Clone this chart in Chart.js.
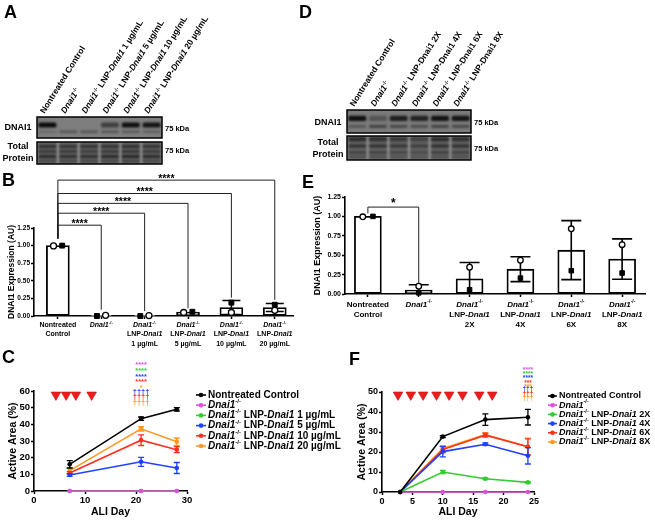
<!DOCTYPE html>
<html lang="en">
<head>
<meta charset="utf-8">
<title>DNAI1 rescue by LNP-Dnai1</title>
<script src="https://cdn.jsdelivr.net/npm/chart.js@4.4.1/dist/chart.umd.min.js"></script>
<style>
  html, body { margin: 0; padding: 0; background: #fff; }
  #figure { position: relative; width: 655px; height: 521px; overflow: hidden; }
  #figure canvas { position: absolute; }
  .panel { position: absolute; font: bold 18px "Liberation Sans", Arial, sans-serif; line-height: 18px; color: #000; }
</style>
</head>
<body>
<div id="figure">
  <canvas id="blotA1" width="300" height="140" style="left:0px;top:0px"></canvas>
  <canvas id="blotA2" width="300" height="28" style="left:0px;top:140px"></canvas>
  <canvas id="blotD1" width="355" height="134" style="left:300px;top:0px"></canvas>
  <canvas id="blotD2" width="355" height="30" style="left:300px;top:134px"></canvas>
  <canvas id="chartB" width="310" height="186" style="left:0px;top:170px"></canvas>
  <canvas id="chartE" width="343" height="165" style="left:312px;top:170px"></canvas>
  <canvas id="chartC" width="345" height="166" style="left:0px;top:355px"></canvas>
  <canvas id="chartF" width="310" height="166" style="left:345px;top:355px"></canvas>
  <div class="panel" style="left:4px;top:3px">A</div>
  <div class="panel" style="left:2px;top:171px">B</div>
  <div class="panel" style="left:2px;top:348px">C</div>
  <div class="panel" style="left:299px;top:3px">D</div>
  <div class="panel" style="left:302px;top:173px">E</div>
  <div class="panel" style="left:349px;top:350px">F</div>
</div>
<script>
const FONT = '"Liberation Sans", Arial, Helvetica, sans-serif';

// ---------- Panel A: western blot, LNP dose series ----------
// text markup: _italic_ and ^superscript^
const lanesA = ['Nontreated Control', '_Dnai1_^-/-^', '_Dnai1_^-/-^ LNP-_Dnai1_ 1 µg/mL', '_Dnai1_^-/-^ LNP-_Dnai1_ 5 µg/mL',
  '_Dnai1_^-/-^ LNP-_Dnai1_ 10 µg/mL', '_Dnai1_^-/-^ LNP-_Dnai1_ 20 µg/mL'];
const dnai1TopA = [1.0, 0.0, 0.0, 0.55, 0.97, 0.93];    // band intensity 0..1
const dnai1LowA = [0.2, 0.45, 0.45, 0.45, 0.4, 0.35];
const totalA = [
  [0.6, 0.55, 0.55, 0.55, 0.6, 0.55],
  [0.45, 0.45, 0.4, 0.45, 0.5, 0.45],
  [0.65, 0.6, 0.6, 0.65, 0.7, 0.65],
  [0.35, 0.35, 0.35, 0.35, 0.4, 0.35]
];

// ---------- Panel D: western blot, repeat dosing ----------
const lanesD = ['Nontreated Control', '_Dnai1_^-/-^', '_Dnai1_^-/-^ LNP-Dnai1 2X', '_Dnai1_^-/-^ LNP-Dnai1 4X',
  '_Dnai1_^-/-^ LNP-Dnai1 6X', '_Dnai1_^-/-^ LNP-Dnai1 8X'];
const dnai1TopD = [0.97, 0.35, 0.85, 0.8, 0.95, 0.93];
const dnai1LowD = [0.35, 0.55, 0.5, 0.45, 0.55, 0.5];
const totalD = [
  [0.65, 0.6, 0.5, 0.4, 0.65, 0.6],
  [0.6, 0.6, 0.55, 0.45, 0.65, 0.6],
  [0.45, 0.45, 0.4, 0.35, 0.5, 0.45],
  [0.3, 0.3, 0.25, 0.2, 0.3, 0.3]
];

// ---------- Panel B: DNAI1 quantification, dose series ----------
const groupsB = ['Nontreated\nControl', '_Dnai1_^-/-^', '_Dnai1_^-/-^\nLNP-_Dnai1_\n1 µg/mL', '_Dnai1_^-/-^\nLNP-_Dnai1_\n5 µg/mL',
  '_Dnai1_^-/-^\nLNP-_Dnai1_\n10 µg/mL', '_Dnai1_^-/-^\nLNP-_Dnai1_\n20 µg/mL'];
const meanB = [1.00, 0.005, 0.003, 0.055, 0.12, 0.12];
const sdB = [0, 0, 0, 0, 0.10, 0.057];
const circleB = [0.995, 0.01, 0.006, 0.05, 0.05, 0.08];
const squareB = [1.00, 0.0, 0.0, 0.06, 0.19, 0.16];

// ---------- Panel E: DNAI1 quantification, repeat dosing ----------
const groupsE = ['Nontreated\nControl', '_Dnai1_^-/-^', '_Dnai1_^-/-^\nLNP-_Dnai1_\n2X', '_Dnai1_^-/-^\nLNP-_Dnai1_\n4X',
  '_Dnai1_^-/-^\nLNP-_Dnai1_\n6X', '_Dnai1_^-/-^\nLNP-_Dnai1_\n8X'];
const meanE = [1.00, 0.05, 0.195, 0.32, 0.565, 0.45];
const sdE = [0, 0.07, 0.21, 0.16, 0.38, 0.26];
const circleE = [0.995, 0.10, 0.345, 0.435, 0.84, 0.635];
const squareE = [1.00, 0.015, 0.055, 0.205, 0.30, 0.27];

// ---------- Panel C: active area over time, dose series ----------
const daysC = [7, 21, 28];
const doseDaysC = [4.3, 6.3, 8.2, 11.3];
const seriesC = ['Nontreated Control', '_Dnai1_^-/-^', '_Dnai1_^-/-^ LNP-_Dnai1_ 1 µg/mL', '_Dnai1_^-/-^ LNP-_Dnai1_ 5 µg/mL',
  '_Dnai1_^-/-^ LNP-_Dnai1_ 10 µg/mL', '_Dnai1_^-/-^ LNP-_Dnai1_ 20 µg/mL'];
const controlC = [16, 43.4, 49];
const knockoutC = [0, 0, 0];
const lnp1C = [0, 0, 0];
const lnp5C = [9.6, 17.5, 13.8];
const lnp10C = [10.8, 30.5, 24.8];
const lnp20C = [12.2, 37.3, 29.6];
const sdC = [[2.2, 1, 1], [0, 0, 0], [0, 0, 0], [0.8, 2.7, 3.3], [0.8, 3.2, 1.8], [1.6, 1.3, 2.2]];
const sigC = [['****', '#dd4fdd'], ['****', '#33cc33'], ['****', '#2040ff'], ['****', '#ff3020'], ['*', '#ff9922'],
  ['††††', '#2040ff'], ['††††', '#ff3020'], ['††††', '#ff9922']];

// ---------- Panel F: active area over time, repeat dosing ----------
const daysF = [3, 10, 17, 24];
const doseDaysF = [2.64, 4.73, 6.76, 8.96, 11.04, 13.24, 15.99, 18.13];
const seriesF = ['Nontreated Control', '_Dnai1_^-/-^', '_Dnai1_^-/-^ LNP-_Dnai1_ 2X', '_Dnai1_^-/-^ LNP-_Dnai1_ 4X',
  '_Dnai1_^-/-^ LNP-_Dnai1_ 6X', '_Dnai1_^-/-^ LNP-_Dnai1_ 8X'];
const controlF = [0, 27.7, 36.2, 37.4];
const knockoutF = [0, 0, 0, 0];
const dose2F = [0, 10, 6.6, 4.8];
const dose4F = [0, 20.2, 23.9, 18.1];
const dose6F = [0, 21.2, 28.4, 22.6];
const dose8F = [0, 21.8, 28.7, 22.6];
const sdF = [[0, 0.5, 2.9, 3.9], [0, 0, 0, 0], [0, 0.8, 0.4, 0.4], [0, 2.6, 0.6, 4.1], [0, 1.5, 1.0, 4.0], [0, 1.2, 0.8, 4.3]];
const sigF = [['****', '#dd4fdd'], ['****', '#33cc33'], ['****', '#2040ff'], ['***', '#ff3020'], ['***', '#ff9922'],
  ['†††', '#2040ff'], ['†††', '#ff3020'], ['†††', '#ff9922']];

const seriesColors = ['#000000', '#dd4fdd', '#33cc33', '#2040ff', '#ff3020', '#ff9922'];

Chart.defaults.font.family = FONT;
Chart.defaults.font.weight = 'bold';
Chart.defaults.color = '#000';
Chart.defaults.animation = false;
Chart.defaults.responsive = false;
Chart.defaults.plugins.legend.display = false;
Chart.defaults.plugins.tooltip.enabled = false;

// Texto con cursiva y superíndice dentro del canvas
function parseRich(str) {
  return str.split(/(_[^_]+_|\^[^\^]+\^)/).filter(s => s.length).map(s => {
    if (s[0] === '_' && s.length > 2) return { t: s.slice(1, -1), it: true };
    if (s[0] === '^' && s.length > 2) return { t: s.slice(1, -1), sup: true };
    return { t: s };
  });
}

function drawRich(ctx, str, x, y, size, align) {
  const parts = parseRich(str);
  let total = 0;
  parts.forEach(p => {
    p.font = (p.it ? 'italic ' : '') + 'bold ' + (p.sup ? size * 0.62 : size) + 'px ' + FONT;
    ctx.font = p.font;
    p.w = ctx.measureText(p.t).width;
    total += p.w;
  });
  let cx = align === 'center' ? x - total / 2 : (align === 'right' ? x - total : x);
  ctx.textAlign = 'left';
  parts.forEach(p => {
    ctx.font = p.font;
    ctx.fillText(p.t, cx, p.sup ? y - size * 0.38 : y);
    cx += p.w;
  });
  return total;
}

function shade(base, v) {
  const g = Math.round(base - (base - 12) * v);
  return 'rgb(' + g + ',' + g + ',' + g + ')';
}

function axisStyle(extra) {
  return Object.assign({
    grid: { drawOnChartArea: false, drawTicks: true, tickLength: 3, tickWidth: 1.5, tickColor: '#000', offset: false },
    border: { display: true, color: '#000', width: 1.6 }
  }, extra);
}

// ---------- Western blot strip ----------
function blotPlugin(o) {
  return {
    id: 'blot',
    beforeDraw(chart) {
      const { ctx, chartArea: a } = chart;
      ctx.save();
      ctx.fillStyle = o.bg;
      ctx.fillRect(a.left, a.top, a.right - a.left, a.bottom - a.top);
      ctx.restore();
    },
    beforeDatasetsDraw(chart) {
      chart.ctx.save();
      chart.ctx.filter = 'blur(0.9px)';
    },
    afterDatasetsDraw(chart) {
      chart.ctx.restore();
    },
    afterDraw(chart) {
      const { ctx, chartArea: a, scales: { x } } = chart;
      const mid = (a.top + a.bottom) / 2;
      ctx.save();
      ctx.strokeStyle = '#000';
      ctx.lineWidth = 1.5;
      ctx.strokeRect(a.left, a.top, a.right - a.left, a.bottom - a.top);
      ctx.fillStyle = '#000';
      ctx.textBaseline = 'middle';
      ctx.textAlign = 'center';
      ctx.font = 'bold 9px ' + FONT;
      o.side.forEach((s, k) => ctx.fillText(s, a.left - 19, mid + o.sideDy[k]));
      ctx.textAlign = 'left';
      ctx.font = 'bold 7.5px ' + FONT;
      ctx.fillText('75 kDa', a.right + 3, mid + o.kdaDy);
      if (o.showLanes) {
        ctx.textBaseline = 'alphabetic';
        o.lanes.forEach((lane, i) => {
          ctx.save();
          ctx.translate(x.getPixelForValue(i) - 3, a.top - 3);
          ctx.rotate(-58 * Math.PI / 180);
          drawRich(ctx, lane, 0, 0, 8.5, 'left');
          ctx.restore();
        });
      }
      ctx.restore();
    }
  };
}

function createBlot(canvasId, o) {
  const datasets = [{
    data: o.lanes.map(() => [0, 1]),
    backgroundColor: o.laneColor,
    barPercentage: 0.9, categoryPercentage: 1, grouped: false, order: 9
  }];
  o.bands.forEach((vals, k) => datasets.push({
    data: vals.map(() => o.bandPos[k].slice()),
    backgroundColor: vals.map(v => shade(o.base, v)),
    barPercentage: 0.86, categoryPercentage: 1, grouped: false,
    borderRadius: 1.5, borderSkipped: false, order: 5 - k
  }));
  return new Chart(document.getElementById(canvasId).getContext('2d'), {
    type: 'bar',
    data: { labels: o.lanes, datasets: datasets },
    options: {
      layout: { padding: o.padding },
      scales: {
        x: { display: false, offset: true },
        y: { display: false, min: 0, max: 1 }
      }
    },
    plugins: [blotPlugin(o)]
  });
}

// ---------- Bar + individual points chart ----------
function dotBarPlugin(o) {
  return {
    id: 'dotBar',
    afterDatasetDraw(chart, args) {
      if (args.index !== 0) return;
      const { ctx, scales: { x, y } } = chart;
      ctx.save();
      ctx.strokeStyle = '#000';
      ctx.lineWidth = 1.6;
      o.means.forEach((m, i) => {
        const sd = o.sds[i];
        if (!sd) return;
        const px = x.getPixelForValue(i);
        const top = y.getPixelForValue(m + sd);
        const bot = y.getPixelForValue(Math.max(0, m - sd));
        ctx.beginPath();
        ctx.moveTo(px, top); ctx.lineTo(px, bot);
        ctx.moveTo(px - o.cap, top); ctx.lineTo(px + o.cap, top);
        if (m - sd > 0) { ctx.moveTo(px - o.cap, bot); ctx.lineTo(px + o.cap, bot); }
        ctx.stroke();
      });
      ctx.restore();
    },
    afterDraw(chart) {
      const { ctx, chartArea, scales: { x, y } } = chart;
      ctx.save();
      // corchetes de significancia
      ctx.strokeStyle = '#222';
      ctx.fillStyle = '#000';
      ctx.lineWidth = 1;
      o.brackets.forEach(b => {
        const x1 = x.getPixelForValue(b.from), x2 = x.getPixelForValue(b.to);
        const yl = y.getPixelForValue(b.at);
        ctx.beginPath();
        ctx.moveTo(x1, y.getPixelForValue(b.base));
        ctx.lineTo(x1, yl);
        ctx.lineTo(x2, yl);
        ctx.lineTo(x2, y.getPixelForValue(b.end));
        ctx.stroke();
        ctx.font = 'bold ' + o.starSize + 'px ' + FONT;
        ctx.textAlign = 'center';
        ctx.textBaseline = 'alphabetic';
        ctx.fillText(b.text, (x1 + x2) / 2, yl + o.starDy);
      });
      // etiquetas de categoría
      ctx.textBaseline = 'middle';
      o.groups.forEach((g, i) => {
        g.split('\n').forEach((line, k) => {
          drawRich(ctx, line, x.getPixelForValue(i), chartArea.bottom + o.labelTop + k * o.labelStep, o.labelSize, 'center');
        });
      });
      ctx.restore();
    }
  };
}

function createDotBarChart(canvasId, o) {
  // separar puntos que se solapan: el menor a la izquierda
  const jit = o.circles.map((c, i) => {
    const s = o.squares[i];
    if (Math.abs(c - s) >= 0.06) return [0, 0];
    return c <= s ? [-0.1, 0.1] : [0.1, -0.1];
  });
  return new Chart(document.getElementById(canvasId).getContext('2d'), {
    type: 'bar',
    data: {
      datasets: [
        {
          data: o.means.map((m, i) => ({ x: i, y: m })),
          backgroundColor: '#fff', borderColor: '#000', borderWidth: 1.8, borderSkipped: false,
          barThickness: o.barWidth, order: 3
        },
        {
          type: 'scatter',
          data: o.circles.map((v, i) => ({ x: i + jit[i][0], y: v })),
          pointStyle: 'circle', pointRadius: o.dot, pointBackgroundColor: '#fff',
          pointBorderColor: '#000', pointBorderWidth: 1.3, order: 1, clip: false
        },
        {
          type: 'scatter',
          data: o.squares.map((v, i) => ({ x: i + jit[i][1], y: v })),
          pointStyle: 'rect', pointRadius: o.dot * 1.15, pointBackgroundColor: '#000',
          pointBorderColor: '#000', pointBorderWidth: 1, order: 2, clip: false
        }
      ]
    },
    options: {
      layout: { padding: o.padding },
      scales: {
        x: axisStyle({
          type: 'linear', min: o.xMin, max: o.xMax, offset: false,
          afterFit: s => { s.height = o.xHeight; },
          afterBuildTicks: s => { s.ticks = o.groups.map((g, i) => ({ value: i })); },
          ticks: { display: false }
        }),
        y: axisStyle({
          min: 0, max: 1.25,
          afterFit: s => { s.width = o.yWidth; },
          ticks: { stepSize: 0.25, padding: 1, font: { size: o.tickSize }, callback: v => v.toFixed(2) },
          title: {
            display: true, text: 'DNAI1 Expression (AU)', color: '#000',
            font: { size: o.titleSize, weight: 'bold' }, padding: { top: o.titlePad, bottom: 0 }
          }
        })
      }
    },
    plugins: [dotBarPlugin(o)]
  });
}

// ---------- Time course line chart ----------
function timeCoursePlugin(o) {
  return {
    id: 'timeCourse',
    afterDatasetDraw(chart, args) {
      const sd = o.sds[args.index];
      if (!sd) return;
      const { ctx, scales: { x, y } } = chart;
      const vals = o.series[args.index];
      ctx.save();
      ctx.strokeStyle = o.colors[args.index];
      ctx.lineWidth = 1.3;
      o.days.forEach((d, i) => {
        if (!sd[i]) return;
        const px = x.getPixelForValue(d);
        const top = y.getPixelForValue(vals[i] + sd[i]);
        const bot = y.getPixelForValue(vals[i] - sd[i]);
        ctx.beginPath();
        ctx.moveTo(px, top); ctx.lineTo(px, bot);
        ctx.moveTo(px - 3, top); ctx.lineTo(px + 3, top);
        ctx.moveTo(px - 3, bot); ctx.lineTo(px + 3, bot);
        ctx.stroke();
      });
      ctx.restore();
    },
    afterDraw(chart) {
      const { ctx, chartArea, scales: { x } } = chart;
      const L = o.legend;
      ctx.save();
      // leyenda
      ctx.textBaseline = 'middle';
      o.names.forEach((name, k) => {
        const ly = L.y + k * L.step;
        ctx.strokeStyle = o.colors[k];
        ctx.fillStyle = o.colors[k];
        ctx.lineWidth = 1.6;
        ctx.beginPath();
        ctx.moveTo(L.x, ly); ctx.lineTo(L.x + L.mark, ly);
        ctx.stroke();
        ctx.beginPath();
        ctx.arc(L.x + L.mark / 2, ly, 2.3, 0, Math.PI * 2);
        ctx.fill();
        ctx.fillStyle = '#000';
        drawRich(ctx, name, L.x + L.mark + 2, ly, L.size, 'left');
      });
      // marcas de significancia
      const sx = x.getPixelForValue(o.sig.at);
      ctx.textAlign = 'center';
      ctx.textBaseline = 'alphabetic';
      ctx.font = 'bold ' + o.sig.size + 'px ' + FONT;
      o.sig.rows.forEach((row, k) => {
        const cy = chartArea.top - o.sig.top + k * o.sig.step;
        const lift = row[0].indexOf('*') >= 0 ? 0.57 : 0.3;
        ctx.fillStyle = row[1];
        ctx.fillText(row[0], sx, cy + lift * o.sig.size);
      });
      ctx.restore();
    }
  };
}

function createTimeCourse(canvasId, o) {
  const datasets = o.series.map((vals, k) => ({
    data: o.days.map((d, i) => ({ x: d, y: vals[i] })),
    borderColor: o.colors[k], backgroundColor: o.colors[k], borderWidth: 1.6,
    pointRadius: 2.3, pointBackgroundColor: o.colors[k], pointBorderWidth: 0, clip: false
  }));
  // triángulos de dosificación
  datasets.push({
    type: 'scatter',
    data: o.doses.map(d => ({ x: d, y: o.doseY })),
    pointStyle: 'triangle', rotation: 180, pointRadius: 5.6,
    pointBackgroundColor: '#f01c1c', pointBorderColor: '#b81515', pointBorderWidth: 0.6, clip: false
  });
  return new Chart(document.getElementById(canvasId).getContext('2d'), {
    type: 'line',
    data: { datasets: datasets },
    options: {
      layout: { padding: o.padding },
      scales: {
        x: axisStyle({
          type: 'linear', min: 0, max: o.xMax, offset: false,
          afterFit: s => { s.height = o.xHeight; },
          ticks: { stepSize: o.xStep, padding: 1, font: { size: o.tickSize } },
          title: { display: true, text: 'ALI Day', color: '#000', font: { size: 10.5, weight: 'bold' }, padding: { top: 0, bottom: 0 } }
        }),
        y: axisStyle({
          min: 0, max: o.yMax,
          afterFit: s => { s.width = o.yWidth; },
          ticks: { stepSize: 10, padding: 1, font: { size: o.tickSize } },
          title: { display: true, text: 'Active Area (%)', color: '#000', font: { size: 10.5, weight: 'bold' }, padding: { top: o.titlePad, bottom: 0 } }
        })
      }
    },
    plugins: [timeCoursePlugin(o)]
  });
}

// ---------- Build panels ----------
createBlot('blotA1', {
  lanes: lanesA, showLanes: true, bands: [dnai1TopA, dnai1LowA], bandPos: [[0.5, 0.74], [0.25, 0.35]],
  bg: 'rgb(130,130,130)', laneColor: 'rgb(126,126,126)', base: 126,
  side: ['DNAI1'], sideDy: [0.5], kdaDy: 1.5,
  padding: { left: 37, top: 117, right: 138, bottom: 2 }
});
createBlot('blotA2', {
  lanes: lanesA, showLanes: false, bands: totalA, bandPos: [[0.73, 0.86], [0.5, 0.64], [0.27, 0.41], [0.09, 0.18]],
  bg: 'rgb(150,150,150)', laneColor: 'rgb(96,96,96)', base: 96,
  side: ['Total', 'Protein'], sideDy: [-6, 6], kdaDy: -2,
  padding: { left: 37, top: 2, right: 138, bottom: 4 }
});
createBlot('blotD1', {
  lanes: lanesD, showLanes: true, bands: [dnai1TopD, dnai1LowD], bandPos: [[0.52, 0.75], [0.23, 0.35]],
  bg: 'rgb(126,126,126)', laneColor: 'rgb(122,122,122)', base: 122,
  side: ['DNAI1'], sideDy: [1.5], kdaDy: 1.5,
  padding: { left: 47, top: 110, right: 184, bottom: 1 }
});
createBlot('blotD2', {
  lanes: lanesD, showLanes: false, bands: totalD, bandPos: [[0.78, 0.95], [0.52, 0.65], [0.27, 0.36], [0.1, 0.18]],
  bg: 'rgb(150,150,150)', laneColor: 'rgb(98,98,98)', base: 98,
  side: ['Total', 'Protein'], sideDy: [-5, 7], kdaDy: 1,
  padding: { left: 47, top: 2, right: 184, bottom: 4 }
});

createDotBarChart('chartB', {
  groups: groupsB, means: meanB, sds: sdB, circles: circleB, squares: squareB,
  brackets: [
    { from: 0, to: 1, at: 1.29, base: 1.10, end: 0.09, text: '****' },
    { from: 0, to: 2, at: 1.46, base: 1.10, end: 0.07, text: '****' },
    { from: 0, to: 3, at: 1.60, base: 1.10, end: 0.11, text: '****' },
    { from: 0, to: 4, at: 1.74, base: 1.10, end: 0.26, text: '****' },
    { from: 0, to: 5, at: 1.93, base: 1.10, end: 0.23, text: '****' }
  ],
  starSize: 10.5, starDy: 1.5,
  xMin: -0.55, xMax: 5.42, barWidth: 23, cap: 9, dot: 3,
  padding: { left: 0, top: 58, right: 17, bottom: 0 }, yWidth: 34, xHeight: 40,
  tickSize: 6.5, titleSize: 8.5, titlePad: 6.6,
  labelTop: 9, labelStep: 9.3, labelSize: 7
});

createDotBarChart('chartE', {
  groups: groupsE, means: meanE, sds: sdE, circles: circleE, squares: squareE,
  brackets: [{ from: 0, to: 1, at: 1.12, base: 1.04, end: 0.14, text: '*' }],
  starSize: 12, starDy: 0,
  xMin: -0.45, xMax: 5.45, barWidth: 27, cap: 10, dot: 2.8,
  padding: { left: 0, top: 27, right: 10, bottom: 0 }, yWidth: 33, xHeight: 41,
  tickSize: 7, titleSize: 9, titlePad: 0,
  labelTop: 11, labelStep: 10, labelSize: 8
});

createTimeCourse('chartC', {
  days: daysC, series: [controlC, knockoutC, lnp1C, lnp5C, lnp10C, lnp20C], sds: sdC,
  names: seriesC, colors: seriesColors, doses: doseDaysC, doseY: 57.7,
  xMax: 30, xStep: 10, yMax: 60, tickSize: 9.5,
  padding: { left: 0, top: 36, right: 158, bottom: 3 }, yWidth: 34, xHeight: 27, titlePad: 7,
  legend: { x: 196, y: 40, step: 10.2, mark: 10, size: 10 },
  sig: { at: 21, rows: sigC, top: 28, step: 5.7, size: 7.5 }
});

createTimeCourse('chartF', {
  days: daysF, series: [controlF, knockoutF, dose2F, dose4F, dose6F, dose8F], sds: sdF,
  names: seriesF, colors: seriesColors, doses: doseDaysF, doseY: 48.6,
  xMax: 25, xStep: 5, yMax: 50, tickSize: 9,
  padding: { left: 0, top: 37, right: 121, bottom: 3 }, yWidth: 37, xHeight: 26, titlePad: 11,
  legend: { x: 203, y: 41, step: 9.2, mark: 9, size: 9 },
  sig: { at: 24, rows: sigF, top: 24, step: 4.3, size: 6.5 }
});
</script>
</body>
</html>
